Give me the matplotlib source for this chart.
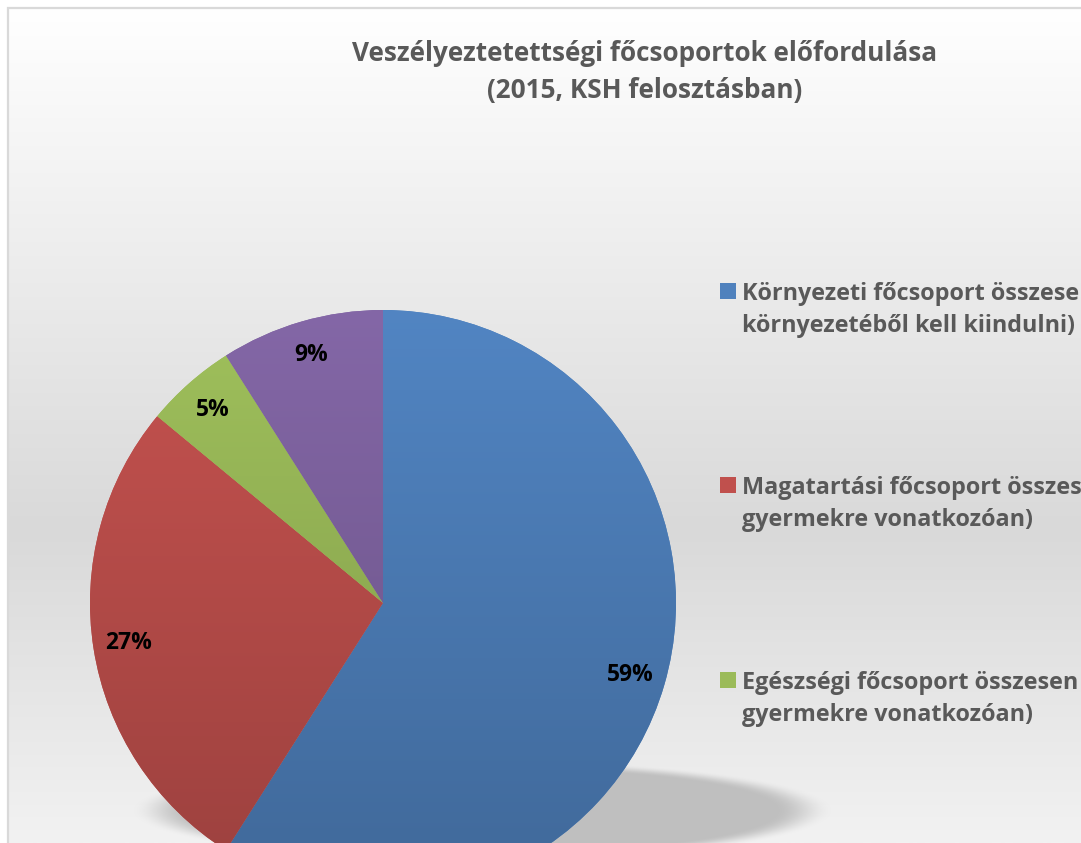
import numpy as np
import matplotlib
matplotlib.use("Agg")
import matplotlib.pyplot as plt
from matplotlib.colors import to_rgb
from matplotlib.patches import Rectangle

# ---------------- data ----------------
title_lines = ["Veszélyeztetettségi főcsoportok előfordulása",
               "(2015, KSH felosztásban)"]
categories = ["Környezeti főcsoport összesen\nkörnyezetéből kell kiindulni)",
              "Magatartási főcsoport összesen\ngyermekre vonatkozóan)",
              "Egészségi főcsoport összesen\ngyermekre vonatkozóan)",
              "Anyagi főcsoport összesen\ngyermekre vonatkozóan)"]
values = [59, 27, 5, 9]
colors = ["#4F81BD", "#C0504D", "#9BBB59", "#8064A2"]

FONT = ["Open Sans", "DejaVu Sans"]
W, H = 1081, 843

fig = plt.figure(figsize=(W / 100, H / 100), dpi=100)
ax = fig.add_axes([0, 0, 1, 1])
ax.set_xlim(0, W)
ax.set_ylim(0, H)
ax.axis("off")


def Y(py):
    return H - py


# background gradient (chart area)
py = np.arange(8, H + 1)
stops_y = [8, 530, H]
stops_c = [np.array(to_rgb("#ffffff")), np.array(to_rgb("#d9d9d9")), np.array(to_rgb("#f2f2f2"))]
grad = np.zeros((len(py), 1, 3))
for ch in range(3):
    grad[:, 0, ch] = np.interp(py, stops_y, [c[ch] for c in stops_c])
ax.imshow(grad, extent=(8, W, Y(H), Y(8)), origin="upper", aspect="auto", zorder=0)
ax.plot([8, 8, W], [Y(H), Y(8), Y(8)], color="#d9d9d9", lw=1.6, zorder=1,
        solid_joinstyle="miter")

# shadow ellipse (blurred)
sx0, sx1, sy0, sy1 = 100, 900, 700, 900
gx, gy = np.meshgrid(np.arange(sx0, sx1), np.arange(sy0, sy1))
cx, cy, a, b = 482, 810, 322, 46
r = np.sqrt(((gx - cx) / a) ** 2 + ((gy - cy) / b) ** 2)
soft = 0.09
alpha = np.clip((1 + soft - r) / (2 * soft), 0, 1)
alpha = alpha * alpha * (3 - 2 * alpha)
sh = np.zeros(gx.shape + (4,))
sh[..., :3] = to_rgb("#bfbfbf")
sh[..., 3] = alpha
ax.imshow(sh, extent=(sx0, sx1, Y(sy1), Y(sy0)), origin="upper", aspect="auto", zorder=2)

# pie
pcx, pcy, R = 383, 603, 293
wedges, _, autotexts = ax.pie(values, colors=colors, startangle=90, counterclock=False,
                              center=(pcx, Y(pcy)), radius=R, autopct="%1.0f%%",
                              pctdistance=0.88,
                              wedgeprops=dict(linewidth=0, zorder=3),
                              textprops=dict(fontsize=16.5, fontweight="bold",
                                             family=FONT, color="black"))
for t in autotexts:
    t.set_zorder(10)

# vertical shading inside each slice
ys = np.linspace(0, 1, 300)
for w, c in zip(wedges, colors):
    base = np.array(to_rgb(c))
    img = np.zeros((len(ys), 1, 3))
    for ch in range(3):
        img[:, 0, ch] = base[ch] * (1.03 - 0.22 * ys)
    img = np.clip(img, 0, 1)
    im = ax.imshow(img, extent=(pcx - R, pcx + R, Y(pcy + R), Y(pcy - R)),
                   origin="upper", aspect="auto", zorder=4)
    im.set_clip_path(w)

# legend (manual, matches Excel layout)
leg_y = [291, 485, 680, 875]
for lab, c, ly in zip(categories, colors, leg_y):
    ax.add_patch(Rectangle((720, Y(ly) - 8), 16, 16, facecolor=c, edgecolor="none", zorder=6))
    l1, l2 = lab.split("\n")
    ax.text(742, Y(ly + 9), l1, fontsize=16.8, fontweight="bold", family=FONT,
            color="#595959", ha="left", va="baseline", zorder=6)
    ax.text(742, Y(ly + 41), l2, fontsize=16.8, fontweight="bold", family=FONT,
            color="#595959", ha="left", va="baseline", zorder=6)

# title
ax.text(645, Y(61), title_lines[0], fontsize=18.8, fontweight="bold", family=FONT,
        color="#595959", ha="center", va="baseline", zorder=6)
ax.text(645, Y(98), title_lines[1], fontsize=18.8, fontweight="bold", family=FONT,
        color="#595959", ha="center", va="baseline", zorder=6)

ax.set_xlim(0, W)
ax.set_ylim(0, H)
ax.set_aspect("auto")
fig.savefig("out.png", dpi=100, facecolor="white")
